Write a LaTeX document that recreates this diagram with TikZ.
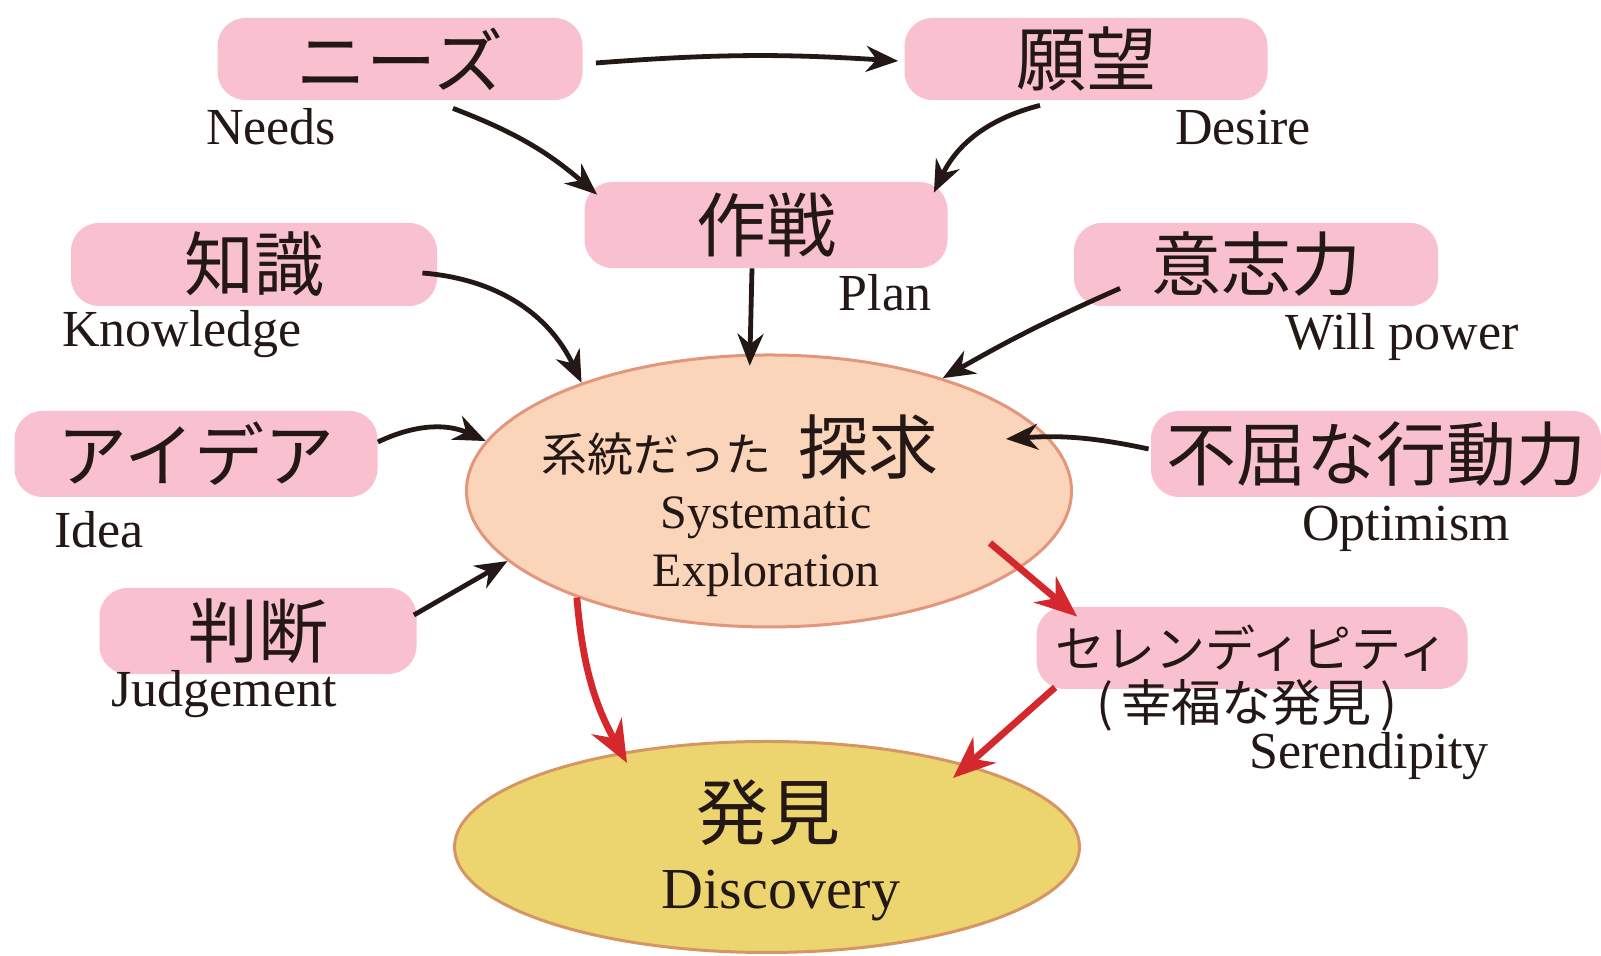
\documentclass[tikz,border=0pt]{standalone}
\usepackage{fontspec}
\setmainfont{Liberation Serif}
\newfontfamily\jp{Noto Sans CJK JP}
\usetikzlibrary{arrows.meta,shapes.geometric,calc}
\definecolor{boxpink}{RGB}{249,192,207}
\definecolor{ink}{RGB}{35,24,21}
\definecolor{expfill}{RGB}{250,213,186}
\definecolor{expline}{RGB}{228,150,125}
\definecolor{discfill}{RGB}{236,212,110}
\definecolor{discline}{RGB}{214,150,100}
\definecolor{arrred}{RGB}{213,40,45}
\begin{document}
\begin{tikzpicture}[x=0.5pt,y=0.5pt,
  pbox/.style={fill=boxpink, rounded corners=14pt, inner sep=0pt, text=ink,
    font=\jp\fontsize{35}{40}\selectfont},
  lab/.style={anchor=base, text=ink, inner sep=0pt, font=\fontsize{26}{30}\selectfont},
  inlab/.style={anchor=base, text=ink, inner sep=0pt, font=\fontsize{24}{28}\selectfont},
  jpbig/.style={text=ink, inner sep=0pt, font=\jp\fontsize{35}{40}\selectfont},
  jpmid/.style={text=ink, inner sep=0pt, font=\jp\fontsize{25}{30}\selectfont},
  blk/.style={draw=ink, line width=2.4pt, -{Stealth[length=16pt,width=13pt]}},
  redarrow/.style={draw=arrred, line width=3.4pt, -{Stealth[length=21pt,width=17pt]}}
]
\useasboundingbox (0,0) rectangle (1601,956);

% ellipses
\node[ellipse, draw=expline, line width=1.5pt, fill=expfill, inner sep=0pt,
  minimum width=302.5pt, minimum height=136pt] (exp) at (769,465) {};
\node[ellipse, draw=discline, line width=1.5pt, fill=discfill, inner sep=0pt,
  minimum width=312.5pt, minimum height=105.5pt] (disc) at (767,109) {};

% boxes
\node[pbox, minimum width=182.5pt, minimum height=41pt] (needs) at (400,897) {ニーズ};
\node[pbox, minimum width=181.5pt, minimum height=41pt] (desire) at (1086,897) {願望};
\node[pbox, minimum width=181.5pt, minimum height=43pt] (plan) at (766,731) {作戦};
\node[pbox, minimum width=183pt, minimum height=41.5pt] (know) at (254,691.5) {知識};
\node[pbox, minimum width=182pt, minimum height=41.5pt] (will) at (1256,691.5) {意志力};
\node[pbox, minimum width=181.5pt, minimum height=43pt] (idea) at (196,502) {アイデア};
\node[pbox, minimum width=225pt, minimum height=43pt] (opt) at (1376,502) {不屈な行動力};
\node[pbox, minimum width=158.5pt, minimum height=43pt] (judge) at (258,325) {判断};
\node[pbox, minimum width=215.5pt, minimum height=41pt, font=\jp\fontsize{25}{30}\selectfont] (seren) at (1252,308) {セレンディピティ};
\node[jpmid] (paren) at (1247,251) {(\,幸福な発見\,)};

% english labels
\node[lab] (lneeds) at (271,811) {Needs};
\node[lab] (ldesire) at (1243,811) {Desire};
\node[lab] (lplan) at (885,645) {Plan};
\node[lab] (lknow) at (182,609) {Knowledge};
\node[lab] (lwill) at (1402,606) {Will power};
\node[lab] (lidea) at (99,408) {Idea};
\node[lab] (lopt) at (1406,415) {Optimism};
\node[lab] (ljudge) at (224,249) {Judgement};
\node[lab] (lseren) at (1369,187) {Serendipity};

% ellipse texts
\node[jpmid, anchor=base, font=\jp\fontsize{23}{28}\selectfont] (sys1) at (656,484) {系統だった};
\node[jpbig, anchor=base] (sys2) at (868,482) {探求};
\node[inlab] (sys3) at (766,427) {Systematic};
\node[inlab] (sys4) at (766,369) {Exploration};
\node[jpbig, font=\jp\fontsize{36}{40}\selectfont] (disc1) at (768,144) {発見};
\node[lab, font=\fontsize{29}{33}\selectfont] (disc2) at (781,47) {Discovery};

% black arrows
\draw[blk] ($(needs.east)+(13,-4)$) to[bend left=4] ($(desire.west)+(-6,-2)$);
\draw[blk] ($(needs.south)+(53,-8)$) to[bend left=10] ($(plan.north west)+(13,-13)$);
\draw[blk] ($(desire.south)+(-46,-5)$) to[bend right=25] ($(plan.north east)+(-14,-11)$);
\draw[blk] ($(plan.south)+(-14,0)$) -- ($(exp.98)+(0,-12)$);
\draw[blk] ($(know.east)+(-15,-8.5)$) to[bend left=30] (exp.150);
\draw[blk] ($(will.south)+(-136,18)$) to[bend right=3] (exp.33);
\draw[blk] ($(idea.east)+(0,12)$) to[bend left=25] (exp.170);
\draw[blk] ($(opt.west)+(-2,5)$) to[bend right=8] ($(exp.center)+(237,52)$);
\draw[blk] ($(judge.east)+(-3,16)$) -- (exp.195);

% red arrows
\draw[redarrow] (exp.209) to[bend right=12] ($(disc.center)+(-140,84)$);
\draw[redarrow] ($(exp.center)+(221,-52)$) -- ($(seren.north west)+(41,-10)$);
\draw[redarrow] ($(seren.south west)+(19,2)$) -- ($(disc.center)+(186,69)$);
\end{tikzpicture}
\end{document}
